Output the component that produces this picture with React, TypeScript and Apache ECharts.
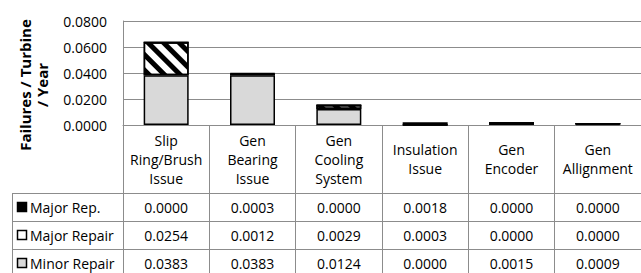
import React, { useEffect, useRef } from "react";
import * as echarts from "echarts";

const categories = [
  "Slip\nRing/Brush\nIssue",
  "Gen\nBearing\nIssue",
  "Gen\nCooling\nSystem",
  "Insulation\nIssue",
  "Gen\nEncoder",
  "Gen\nAllignment",
];
const seriesNames = ["Major Rep.", "Major Repair", "Minor Repair"];
const majorRep = [0.0, 0.0003, 0.0, 0.0018, 0.0, 0.0];
const majorRepair = [0.0254, 0.0012, 0.0029, 0.0003, 0.0, 0.0];
const minorRepair = [0.0383, 0.0383, 0.0124, 0.0, 0.0015, 0.0009];
const yMin = 0;
const yMax = 0.08;
const yInterval = 0.02;
const yTitle = "Failures / Turbine\n/ Year";

const FONT = "'Open Sans', 'Noto Sans', sans-serif";
const GRID_LEFT = 123;
const GRID_TOP = 21;
const GRID_H = 104;
const GRID_W = 528;
const ROW_H = 28;
const ROW0 = 193;
const LINE = "#8c8c8c";

export default function App() {
  const ref = useRef<HTMLDivElement>(null);
  useEffect(() => {
    if (!ref.current) return;
    const chart = echarts.init(ref.current, null, { renderer: "svg" });
    const rows = [
      { name: seriesNames[0], data: majorRep, fill: "#000000" },
      { name: seriesNames[1], data: majorRepair, fill: "#ffffff" },
      { name: seriesNames[2], data: minorRepair, fill: "#d9d9d9" },
    ];
    const baseY = GRID_TOP + GRID_H;
    const valueAxes = rows.map((r, i) => ({
      type: "category",
      gridIndex: 0,
      position: "bottom",
      data: r.data.map((v) => v.toFixed(4)),
      axisLine: { show: false },
      axisTick: { show: false },
      splitLine: { show: false },
      axisLabel: {
        interval: 0,
        margin: ROW0 + ROW_H * i + ROW_H / 2 - baseY,
        verticalAlign: "middle",
        fontFamily: FONT,
        fontSize: 14,
        color: "#000",
      },
    }));
    const graphics: any[] = [
      {
        type: "text",
        x: 33,
        y: 85,
        rotation: Math.PI / 2,
        style: {
          text: yTitle,
          align: "center",
          verticalAlign: "middle",
          fontFamily: FONT,
          fontWeight: "bold",
          fontSize: 15,
          lineHeight: 17,
          fill: "#000",
        },
      },
    ];
    for (let i = 0; i < 3; i++) {
      const y = ROW0 + ROW_H * i + 0.5;
      graphics.push({
        type: "line",
        shape: { x1: 12, y1: y, x2: 660, y2: y },
        style: { stroke: LINE, lineWidth: 1 },
      });
    }
    graphics.push({
      type: "line",
      shape: { x1: 12.5, y1: ROW0, x2: 12.5, y2: 280 },
      style: { stroke: LINE, lineWidth: 1 },
    });
    rows.forEach((r, i) => {
      const cy = ROW0 + ROW_H * i + ROW_H / 2;
      graphics.push({
        type: "rect",
        shape: { x: 17.5, y: cy - 4.5, width: 9, height: 9 },
        style: { fill: r.fill, stroke: "#000", lineWidth: 1.5 },
      });
      graphics.push({
        type: "text",
        x: 30,
        y: cy,
        style: {
          text: r.name,
          verticalAlign: "middle",
          fontFamily: FONT,
          fontSize: 14,
          fill: "#000",
        },
      });
    });

    const barBase = {
      type: "bar",
      stack: "total",
      barWidth: 45,
      xAxisIndex: 0,
      yAxisIndex: 0,
    };
    chart.setOption({
      animation: false,
      backgroundColor: "#ffffff",
      textStyle: { fontFamily: FONT },
      grid: { left: GRID_LEFT, top: GRID_TOP, width: GRID_W, height: GRID_H, containLabel: false },
      xAxis: [
        {
          type: "category",
          data: categories,
          position: "bottom",
          axisLine: { show: true, lineStyle: { color: LINE, width: 1 } },
          axisTick: {
            show: true,
            alignWithLabel: false,
            interval: 0,
            length: 160,
            lineStyle: { color: LINE, width: 1 },
          },
          splitLine: { show: false },
          axisLabel: {
            interval: 0,
            margin: (ROW0 - baseY) / 2,
            verticalAlign: "middle",
            lineHeight: 19,
            fontFamily: FONT,
            fontSize: 14,
            color: "#000",
          },
        },
        ...valueAxes,
      ],
      yAxis: {
        type: "value",
        min: yMin,
        max: yMax,
        interval: yInterval,
        axisLine: { show: true, lineStyle: { color: LINE, width: 1 } },
        axisTick: { show: false },
        splitLine: { show: true, lineStyle: { color: LINE, width: 1 } },
        axisLabel: {
          margin: 16,
          formatter: (v: number) => v.toFixed(4),
          fontFamily: FONT,
          fontSize: 14,
          color: "#000",
        },
      },
      series: [
        {
          ...barBase,
          name: seriesNames[2],
          data: minorRepair,
          itemStyle: { color: "#d9d9d9", borderColor: "#000", borderWidth: 1.5 },
        },
        {
          ...barBase,
          name: seriesNames[1],
          data: majorRepair,
          itemStyle: {
            color: "#ffffff",
            borderColor: "#000",
            borderWidth: 1.5,
            decal: {
              symbol: "rect",
              symbolSize: 1,
              color: "#000000",
              backgroundColor: "#ffffff",
              dashArrayX: [1, 0],
              dashArrayY: [5, 6],
              rotation: Math.PI / 4,
            },
          },
        },
        {
          ...barBase,
          name: seriesNames[0],
          data: majorRep,
          itemStyle: { color: "#000000", borderColor: "#000", borderWidth: 1.5 },
        },
      ],
      graphic: graphics,
    });
    return () => chart.dispose();
  }, []);
  return (
    <div
      ref={ref}
      style={{ position: "absolute", left: 0, top: 0, width: 641, height: 273 }}
    />
  );
}
